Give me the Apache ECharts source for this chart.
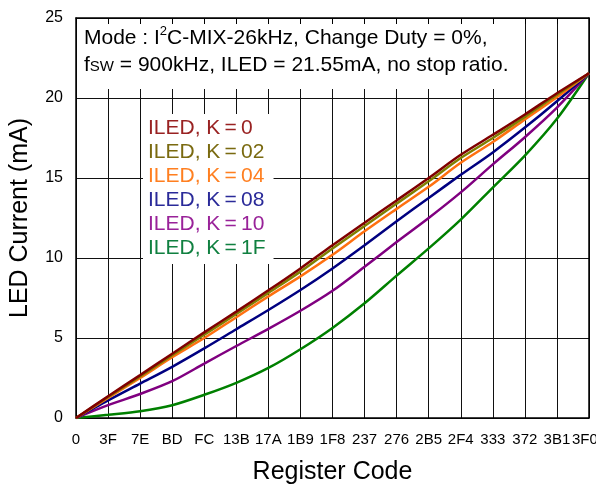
<!DOCTYPE html>
<html>
<head>
<meta charset="utf-8">
<script src="https://cdn.jsdelivr.net/npm/echarts@6/dist/echarts.min.js"></script>
<style>
  html, body { margin: 0; padding: 0; background: #fff; }
  #chart { width: 596px; height: 487px; }
</style>
</head>
<body>
<div id="chart"></div>
<script>
// register codes at each grid line (hex 0 .. 3F0, step 3F)
const codes = [0x000, 0x03F, 0x07E, 0x0BD, 0x0FC, 0x13B, 0x17A, 0x1B9, 0x1F8,
               0x237, 0x276, 0x2B5, 0x2F4, 0x333, 0x372, 0x3B1, 0x3F0]

// LED current (mA) read at each code
const k00 = [0, 1.36, 2.68, 4.02, 5.35, 6.65, 7.98, 9.35, 10.8, 12.2, 13.6, 15.0, 16.45, 17.7, 18.97, 20.3, 21.55]
const k02 = [0, 1.32, 2.6, 3.92, 5.2, 6.5, 7.82, 9.15, 10.6, 12.0, 13.4, 14.8, 16.25, 17.5, 18.82, 20.2, 21.55]
const k04 = [0, 1.25, 2.5, 3.8, 5.0, 6.3, 7.6, 8.85, 10.2, 11.67, 13.07, 14.45, 15.95, 17.25, 18.66, 20.05, 21.55]
const k08 = [0, 1.1, 2.15, 3.2, 4.35, 5.55, 6.75, 8.0, 9.35, 10.8, 12.3, 13.75, 15.2, 16.6, 18.15, 19.8, 21.55]
const k10 = [0, 0.8, 1.5, 2.3, 3.4, 4.5, 5.57, 6.7, 7.95, 9.45, 11.0, 12.5, 14.1, 15.85, 17.55, 19.4, 21.55]
const k1F = [0, 0.2, 0.42, 0.8, 1.45, 2.2, 3.13, 4.3, 5.63, 7.17, 8.9, 10.6, 12.4, 14.4, 16.4, 18.7, 21.55]

const names = ['ILED, K\u2009=\u20090', 'ILED, K\u2009=\u200902', 'ILED, K\u2009=\u200904',
               'ILED, K\u2009=\u200908', 'ILED, K\u2009=\u200910', 'ILED, K\u2009=\u20091F']
const lineColors = ['#800000', '#808000', '#ff7010', '#000080', '#800080', '#008000']
const textColors = ['#992222', '#7a6a10', '#ff7f20', '#2a2a99', '#992299', '#108040']
const values = [k00, k02, k04, k08, k10, k1F]

const FONT = 'Liberation Sans, Arial, sans-serif'

const chart = echarts.init(document.getElementById('chart'))

const series = values.map((v, i) => ({
  name: names[i],
  type: 'line',
  showSymbol: false,
  smooth: 0.3,
  z: 10 - i,
  lineStyle: { color: lineColors[i], width: 2.5 },
  itemStyle: { color: lineColors[i] },
  data: codes.map((c, j) => [c, v[j]])
}))

chart.setOption({
  animation: false,
  textStyle: { fontFamily: FONT },
  grid: { left: 76, right: 7, top: 18, bottom: 69, outerBoundsMode: 'none', containLabel: false },
  legend: {
    orient: 'vertical',
    left: 143,
    top: 114,
    padding: [2, 8, 4, 0],
    itemGap: 0,
    itemWidth: 0,
    icon: 'none',
    selectedMode: false,
    backgroundColor: '#fff',
    textStyle: { fontSize: 21, lineHeight: 24, fontFamily: FONT },
    data: names.map((n, i) => ({ name: n, textStyle: { color: textColors[i] } }))
  },
  xAxis: [{
    type: 'value',
    position: 'bottom',
    min: 0,
    max: 0x3F0,
    interval: 0x3F,
    name: 'Register Code',
    nameLocation: 'middle',
    nameGap: 42,
    nameTextStyle: { fontSize: 25, color: '#000', fontFamily: FONT },
    axisLine: { show: true, lineStyle: { color: '#000', width: 1.5 } },
    axisTick: { show: false },
    axisLabel: {
      color: '#000', fontSize: 15, margin: 14, hideOverlap: false,
      formatter: v => {
        const s = v.toString(16).toUpperCase()
        // trailing spaces nudge the last label left so it fits the window
        return v === 0x3F0 ? s + '  ' : s
      }
    },
    splitLine: { show: true, lineStyle: { color: '#111', width: 1 } }
  }, {
    type: 'value',
    position: 'top',
    min: 0,
    max: 0x3F0,
    interval: 0x3F,
    z: 5,
    axisLine: { show: true, onZero: false, lineStyle: { color: '#000', width: 1.5 } },
    axisTick: { show: true, inside: true, length: 6, lineStyle: { color: '#000' } },
    axisLabel: { show: false },
    splitLine: { show: false }
  }],
  yAxis: [{
    type: 'value',
    position: 'left',
    min: 0,
    max: 25,
    interval: 5,
    name: 'LED Current (mA)',
    nameLocation: 'middle',
    nameGap: 43,
    nameTextStyle: { fontSize: 25, color: '#000', fontFamily: FONT },
    axisLine: { show: true, lineStyle: { color: '#000', width: 1.5 } },
    axisTick: { show: false },
    axisLabel: { color: '#000', fontSize: 16, margin: 13 },
    splitLine: { show: true, lineStyle: { color: '#111', width: 1 } }
  }, {
    type: 'value',
    position: 'right',
    min: 0,
    max: 25,
    interval: 5,
    z: 5,
    axisLine: { show: true, onZero: false, lineStyle: { color: '#000', width: 1.5 } },
    axisTick: { show: false },
    axisLabel: { show: false },
    splitLine: { show: false }
  }],
  graphic: [{
    type: 'rect',
    z: 1,
    shape: { x: 77.5, y: 19, width: 440, height: 70 },
    style: { fill: '#fff' }
  }, {
    type: 'text',
    z: 6,
    left: 84,
    top: 25,
    style: {
      text: 'Mode : I{sup|2}C-MIX-26kHz, Change Duty = 0%,\nf{sub|SW} = 900kHz, ILED = 21.55mA, no stop ratio.',
      font: '21px ' + FONT,
      fill: '#000',
      lineHeight: 27,
      rich: {
        sup: { fontSize: 13, fontFamily: FONT, verticalAlign: 'top', lineHeight: 27, padding: [0, 0, 8, 0] },
        sub: { fontSize: 15, fontFamily: FONT, lineHeight: 27, padding: [3, 0, 0, 0] }
      }
    }
  }],
  series: series
})
</script>
</body>
</html>
